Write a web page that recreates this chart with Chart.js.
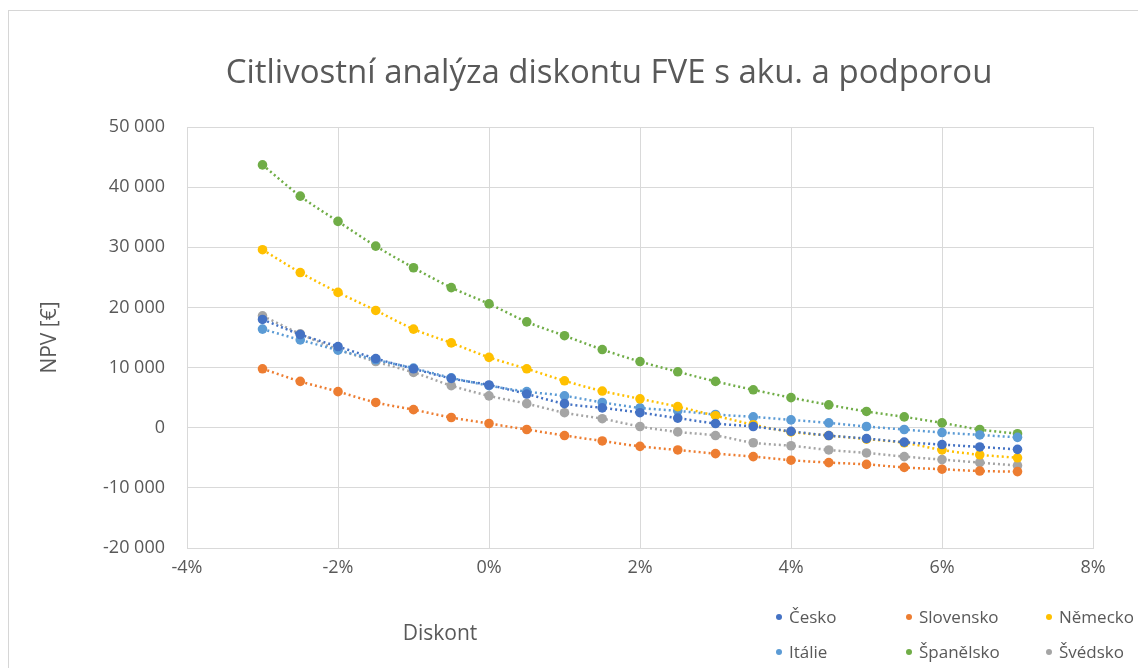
<!DOCTYPE html>
<html>
<head>
<meta charset="utf-8">
<script src="https://cdn.jsdelivr.net/npm/chart.js@4/dist/chart.umd.min.js"></script>
<style>
  body { margin: 0; background: #fff; font-family: 'Open Sans', sans-serif; }
  #wrap { position: relative; width: 1138px; height: 668px; overflow: hidden; }
  #frame { position: absolute; left: 8px; top: 10px; width: 1140px; height: 670px; border: 1px solid #d6d6d6; box-sizing: border-box; }
  #title { position: absolute; left: 609px; top: 70px; transform: translate(-50%, -50%); color: #595959; font-size: 33px; white-space: nowrap; }
  #xtitle { position: absolute; left: 440px; top: 632px; transform: translate(-50%, -50%); color: #595959; font-size: 21px; }
  #legend { position: absolute; left: 776px; top: 603px; display: grid; grid-template-columns: 130px 140px 100px; row-gap: 8px; color: #595959; font-size: 17px; }
  .item { display: flex; align-items: center; height: 27px; white-space: nowrap; }
  .dot { width: 6px; height: 6px; border-radius: 50%; margin-right: 7px; }
</style>
</head>
<body>
<div id="wrap">
  <div id="frame"></div>
  <canvas id="chart" width="1138" height="668"></canvas>
  <div id="title">Citlivostní analýza diskontu FVE s aku. a podporou</div>
  <div id="xtitle">Diskont</div>
  <div id="legend"></div>
</div>
<script>
var diskont = [-3, -2.5, -2, -1.5, -1, -0.5, 0, 0.5, 1, 1.5, 2, 2.5, 3, 3.5, 4, 4.5, 5, 5.5, 6, 6.5, 7]

var cesko      = [18000, 15500, 13500, 11500, 9800, 8200, 7100, 5600, 4000, 3300, 2500, 1600, 700, 200, -600, -1300, -1800, -2400, -2800, -3200, -3600]
var slovensko  = [9800, 7700, 6000, 4200, 3000, 1700, 700, -300, -1300, -2200, -3100, -3700, -4300, -4800, -5400, -5800, -6100, -6600, -6900, -7200, -7300]
var nemecko    = [29600, 25800, 22500, 19500, 16400, 14100, 11700, 9800, 7800, 6100, 4800, 3500, 2000, 500, -700, -1300, -1900, -2500, -3700, -4500, -5000]
var italie     = [16400, 14600, 12900, 11300, 9900, 8300, 7000, 6000, 5300, 4200, 3300, 2800, 2200, 1800, 1300, 800, 200, -300, -800, -1200, -1600]
var spanelsko  = [43700, 38500, 34300, 30200, 26600, 23300, 20600, 17600, 15300, 13000, 11000, 9300, 7700, 6300, 5000, 3800, 2700, 1800, 800, -300, -1000]
var svedsko    = [18600, 15600, 13000, 11000, 9200, 7000, 5300, 4000, 2500, 1500, 200, -700, -1300, -2500, -3000, -3700, -4200, -4800, -5300, -5800, -6300]

var names  = ['Česko', 'Slovensko', 'Německo', 'Itálie', 'Španělsko', 'Švédsko']
var series = [cesko, slovensko, nemecko, italie, spanelsko, svedsko]
var colors = ['#4472C4', '#ED7D31', '#FFC000', '#5B9BD5', '#70AD47', '#A5A5A5']

function toPoints(values){
    var pts = []
    for (var i = 0; i < diskont.length; i++) {
        pts.push({x: diskont[i], y: values[i]})
    }
    return pts
}

function fmtThousands(v){
    var s = Math.abs(v).toString().replace(/\B(?=(\d{3})+(?!\d))/g, ' ')
    return (v < 0 ? '-' : '') + s
}

var datasets = []
for (var i = series.length - 1; i >= 0; i--) {
    datasets.push({
        label: names[i],
        data: toPoints(series[i]),
        borderColor: colors[i],
        backgroundColor: colors[i],
        borderWidth: 2.5,
        borderDash: [2, 3],
        pointRadius: 4.8,
        pointBorderWidth: 0,
        pointHoverRadius: 4.8,
        showLine: true,
        cubicInterpolationMode: 'monotone',
        order: i
    })
}

var legendBox = document.getElementById('legend')
for (var k = 0; k < names.length; k++) {
    legendBox.innerHTML += "<div class='item'><span class='dot' style='background:" + colors[k] + "'></span>" + names[k] + "</div>"
}

Chart.defaults.font.family = "'Open Sans', sans-serif"
Chart.defaults.color = '#595959'

var ctx = document.getElementById('chart')
var myChart = new Chart(ctx, {
    type: 'scatter',
    data: { datasets: datasets },
    options: {
        responsive: false,
        animation: false,
        layout: { padding: { left: 4, right: 45, top: 127, bottom: 80 } },
        plugins: {
            legend: { display: false },
            tooltip: { enabled: false }
        },
        scales: {
            x: {
                type: 'linear',
                min: -4,
                max: 8,
                ticks: {
                    stepSize: 2,
                    padding: 9,
                    font: { size: 18 },
                    callback: function(v){ return v + '%' }
                },
                grid: { color: '#d9d9d9', drawTicks: false },
                border: { color: '#d9d9d9' },
                afterFit: function(s){ s.height = 40 }
            },
            y: {
                min: -20000,
                max: 50000,
                ticks: {
                    stepSize: 10000,
                    padding: 22,
                    font: { size: 18 },
                    callback: function(v){ return fmtThousands(v) }
                },
                grid: { color: '#d9d9d9', drawTicks: false },
                border: { color: '#d9d9d9' },
                title: {
                    display: true,
                    text: 'NPV [€]',
                    font: { size: 21 },
                    color: '#595959',
                    padding: { top: 33, bottom: 0 }
                },
                afterFit: function(s){ s.width = 183 }
            }
        }
    }
})
</script>
</body>
</html>
